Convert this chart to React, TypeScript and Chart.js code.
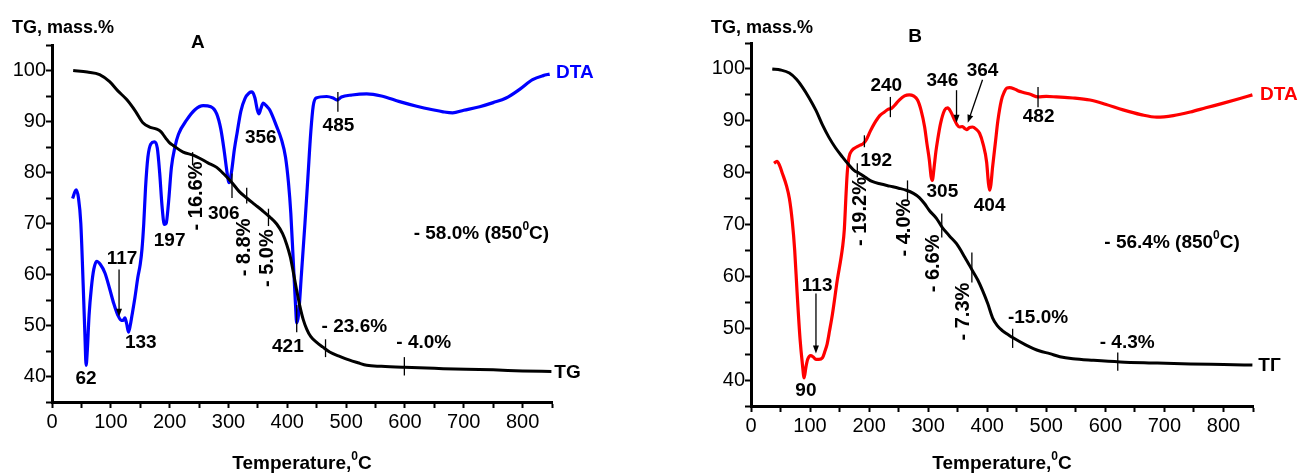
import React, { useEffect, useRef } from 'react';
import { Chart, registerables } from 'chart.js';

Chart.register(...registerables);

const FONT = '"Liberation Sans", Arial, Helvetica, sans-serif';

// ---------- Panel A data ----------
const tgTempA = [36, 60, 81, 98, 112, 127, 142, 155, 166, 178, 185, 193, 200, 206, 223, 240, 251, 265, 280, 293, 306, 318, 331, 345, 358, 370, 382, 392, 399, 405, 410, 415, 421, 427, 433, 440, 450, 460, 472, 490, 506, 520, 535, 560, 599, 650, 704, 750, 800, 849];
const tgA = [100, 99.7, 99.2, 97.8, 96, 94.3, 92, 89.7, 88.9, 88.5, 88, 86.8, 85.8, 85.3, 84, 83.4, 82.8, 81.9, 81, 79.6, 78, 76.3, 75, 73.7, 72.5, 71.3, 69.9, 68, 65.9, 63.5, 60.6, 57.5, 54, 51.2, 49.3, 47.8, 46.7, 45.8, 44.8, 43.9, 43.2, 42.7, 42.2, 42, 41.8, 41.6, 41.4, 41.3, 41.1, 41.0];

const dtaTempA = [35, 41, 45, 49, 53, 56, 58, 60, 63, 67, 71, 76, 82, 90, 98, 105, 112, 118, 121, 124, 127, 130, 133, 136, 141, 146, 150, 153, 156, 159, 163, 168, 174, 179, 183, 187, 191, 194, 198, 203, 209, 215, 229, 243, 257, 270, 280, 287, 293, 297, 301, 305, 310, 315, 321, 328, 335, 340, 345, 349, 352, 355, 359, 365, 370, 382, 390, 397, 402, 406, 410, 414, 416, 419, 424, 430, 435, 440, 444, 449, 467, 478, 485, 492, 510, 535, 560, 591, 620, 647, 665, 681, 700, 727, 750, 772, 795, 817, 835, 846];
const dtaA = [74.9, 76.6, 75, 70, 58, 48, 42.2, 45, 52, 57.5, 61, 62.6, 62, 60.3, 57.2, 54.3, 52, 51, 51, 51.5, 50.3, 48.7, 50, 52, 55.5, 59.5, 62, 65, 70, 77, 83, 85.6, 86, 84.8, 80, 73.5, 69.8, 70, 74, 81, 85, 87.5, 90.3, 92.3, 93.1, 92.9, 91.5, 88.5, 84, 80.5, 78, 80, 84.5, 88, 92, 94.5, 95.6, 95.8, 94.6, 92.3, 91.5, 92.5, 93.6, 93, 92.3, 89, 86.5, 83, 78, 72, 63, 54, 50.5, 52, 60, 70, 79, 88, 93, 94.6, 94.9, 94.6, 94.2, 94.8, 95.2, 95.4, 95, 93.9, 93, 92.3, 91.9, 91.7, 92.2, 92.9, 93.7, 94.6, 96.3, 98.2, 99, 99.3];

// ---------- Panel B data ----------
const tgTempB = [36, 50, 65, 77, 87, 98, 110, 121, 132, 143, 155, 165, 175, 183, 195, 205, 220, 235, 250, 263, 275, 285, 294, 302, 314, 324, 336, 348, 362, 375, 384, 392, 401, 409, 417, 426, 435, 443, 465, 489, 506, 523, 545, 580, 625, 680, 744, 800, 849];
const tgB = [100, 99.8, 99.2, 98, 96.5, 94.5, 92, 89.2, 86.8, 84.8, 83, 81.6, 80.4, 79.9, 79, 78.3, 77.8, 77.4, 77, 76.6, 76, 75.2, 74, 72.7, 71.2, 69.4, 67.8, 66.3, 63.7, 61.1, 59.3, 57.3, 54.7, 52, 50.5, 49.5, 48.8, 48.2, 46.8, 45.6, 45.1, 44.5, 44.1, 43.8, 43.5, 43.3, 43.1, 43, 42.9];

const dtaTempB = [39, 44, 48, 53, 60, 65, 70, 74, 78, 83, 87, 90, 93, 96, 101, 105, 110, 115, 121, 125, 129, 133, 138, 146, 155, 158, 161, 163, 166, 171, 178, 185, 190, 195, 202, 209, 218, 226, 232, 238, 245, 251, 260, 268, 275, 282, 288, 294, 298, 302, 305, 307, 310, 313, 316, 321, 328, 333, 338, 345, 349, 353, 358, 362, 365, 370, 375, 381, 387, 393, 399, 402, 404, 406, 409, 414, 418, 424, 429, 433, 438, 445, 452, 460, 473, 486, 500, 517, 545, 574, 600, 630, 660, 687, 715, 744, 770, 800, 825, 849];
const dtaB = [81.8, 82.2, 81.5, 79.9, 77.5, 75, 70.5, 65, 57, 48, 43.1, 40.4, 42.5, 44, 44.7, 44.5, 44, 44, 44.3, 45.5, 47, 49.5, 52.8, 59.2, 65.6, 69, 76, 80, 83, 84.3, 84.9, 85.3, 85.6, 86.3, 88, 89.5, 91, 91.7, 92.2, 92.4, 93.2, 94, 94.8, 95, 94.8, 94, 92, 88.8, 85.5, 82.4, 79.2, 78.5, 81, 84, 86.3, 89.5, 92.1, 92.5, 91.8, 90.1, 89.2, 88.8, 88.9, 88.5, 88.3, 88.7, 88.8, 88.4, 87.6, 85.5, 82, 78, 76.6, 77.5, 81, 86, 90, 94, 95.6, 96.3, 96.4, 96.2, 95.8, 95.5, 95.1, 94.6, 94.7, 94.6, 94.4, 94, 93.2, 92.1, 91.2, 90.7, 91, 91.7, 92.5, 93.4, 94.2, 95];

// ---------- Axis settings ----------
const xMin = 0, xMax = 850, xStep = 50;
const yMin = 35, yMax = 105, yStep = 5;

// ---------- Annotations (data coordinates) ----------
const labelsA = [
  { t: '62', x: 58, y: 39.6 }, { t: '117', x: 119, y: 63 }, { t: '133', x: 151, y: 46.7 },
  { t: '197', x: 200, y: 66.7 }, { t: '306', x: 292, y: 71.9 }, { t: '356', x: 355, y: 86.9 },
  { t: '421', x: 401, y: 45.9 }, { t: '485', x: 487, y: 89.1 },
  { t: '- 23.6%', x: 514, y: 49.7 }, { t: '- 4.0%', x: 632, y: 46.7 },
];
const rotatedA = [
  { t: '- 16.6%', x: 246, y: 75.4 }, { t: '- 8.8%', x: 328, y: 65.3 }, { t: '- 5.0%', x: 367, y: 63.2 },
];
const markersA = [
  { x: 239, y1: 84, y2: 81.4 }, { x: 306, y1: 79.8, y2: 75 }, { x: 331, y1: 77, y2: 73.9 },
  { x: 368, y1: 72.9, y2: 69.5 }, { x: 416, y1: 54, y2: 48.7 }, { x: 486, y1: 95.8, y2: 91.9 },
  { x: 465, y1: 47.3, y2: 43.8 }, { x: 599, y1: 43.8, y2: 40.2 },
];
const arrowsA = [{ x1: 114, y1: 61, x2: 114, y2: 51.7 }];

const labelsB = [
  { t: '90', x: 93, y: 37.9 }, { t: '113', x: 112, y: 58.2 }, { t: '192', x: 212, y: 82.2 },
  { t: '240', x: 229, y: 96.7 }, { t: '305', x: 324, y: 76.4 }, { t: '346', x: 324, y: 97.7 },
  { t: '364', x: 392, y: 99.6 }, { t: '404', x: 404, y: 73.7 }, { t: '482', x: 487, y: 90.7 },
  { t: '-15.0%', x: 486, y: 52 }, { t: '- 4.3%', x: 637, y: 47.2 },
];
const rotatedB = [
  { t: '- 19.2%', x: 185, y: 72.5 }, { t: '- 4.0%', x: 260, y: 69.4 },
  { t: '- 6.6%', x: 309, y: 62.5 }, { t: '- 7.3%', x: 360, y: 53.2 },
];
const markersB = [
  { x: 192, y1: 87.2, y2: 84.9 }, { x: 236, y1: 94.6, y2: 90.7 }, { x: 486, y1: 96.5, y2: 92.6 },
  { x: 180, y1: 81.8, y2: 79.1 }, { x: 265, y1: 78.5, y2: 74.7 }, { x: 323, y1: 72.1, y2: 67.5 },
  { x: 374, y1: 64.6, y2: 58.8 }, { x: 443, y1: 49.9, y2: 46.2 }, { x: 621, y1: 45.3, y2: 41.8 },
];
const arrowsB = [
  { x1: 110, y1: 56.7, x2: 110, y2: 45.1 },
  { x1: 348, y1: 95.9, x2: 348, y2: 89.6 },
  { x1: 392, y1: 97.9, x2: 367, y2: 89.6 },
];

type Part = { s: string; sup?: boolean };
const totalA: Part[] = [{ s: '- 58.0% (850' }, { s: '0', sup: true }, { s: 'C)' }];
const totalB: Part[] = [{ s: '- 56.4% (850' }, { s: '0', sup: true }, { s: 'C)' }];
const xTitle: Part[] = [{ s: 'Temperature,' }, { s: '0', sup: true }, { s: 'C' }];

function drawRich(ctx: CanvasRenderingContext2D, parts: Part[], cx: number, cy: number, size: number) {
  const supSize = Math.round(size * 0.62);
  const widths = parts.map((p) => {
    ctx.font = `bold ${p.sup ? supSize : size}px ${FONT}`;
    return ctx.measureText(p.s).width;
  });
  const total = widths.reduce((a, b) => a + b, 0);
  let x = cx - total / 2;
  ctx.textAlign = 'left';
  ctx.textBaseline = 'middle';
  parts.forEach((p, i) => {
    ctx.font = `bold ${p.sup ? supSize : size}px ${FONT}`;
    ctx.fillText(p.s, x, p.sup ? cy - size * 0.38 : cy);
    x += widths[i];
  });
}

function makePlugin(cfg: any) {
  return {
    id: 'annotations' + cfg.key,
    afterDraw(chart: any) {
      const ctx: CanvasRenderingContext2D = chart.ctx;
      const xs = chart.scales.x;
      const ys = chart.scales.y;
      const px = (v: number) => xs.getPixelForValue(v);
      const py = (v: number) => ys.getPixelForValue(v);
      const area = chart.chartArea;
      ctx.save();
      ctx.fillStyle = '#000';
      ctx.strokeStyle = '#000';

      // markers
      ctx.lineWidth = 1.3;
      cfg.markers.forEach((m: any) => {
        ctx.beginPath();
        ctx.moveTo(px(m.x), py(m.y1));
        ctx.lineTo(px(m.x), py(m.y2));
        ctx.stroke();
      });
      // arrows
      cfg.arrows.forEach((a: any) => {
        const x1 = px(a.x1), y1 = py(a.y1), x2 = px(a.x2), y2 = py(a.y2);
        const ang = Math.atan2(y2 - y1, x2 - x1);
        const L = 8, W = 3;
        ctx.beginPath();
        ctx.moveTo(x1, y1);
        ctx.lineTo(x2 - Math.cos(ang) * L * 0.8, y2 - Math.sin(ang) * L * 0.8);
        ctx.stroke();
        ctx.beginPath();
        ctx.moveTo(x2, y2);
        ctx.lineTo(x2 - Math.cos(ang) * L - Math.sin(ang) * W, y2 - Math.sin(ang) * L + Math.cos(ang) * W);
        ctx.lineTo(x2 - Math.cos(ang) * L + Math.sin(ang) * W, y2 - Math.sin(ang) * L - Math.cos(ang) * W);
        ctx.closePath();
        ctx.fill();
      });
      // labels
      ctx.font = `bold 19px ${FONT}`;
      ctx.textAlign = 'center';
      ctx.textBaseline = 'middle';
      cfg.labels.forEach((l: any) => ctx.fillText(l.t, px(l.x), py(l.y)));
      // rotated labels
      ctx.font = `bold 20px ${FONT}`;
      cfg.rotated.forEach((l: any) => {
        ctx.save();
        ctx.translate(px(l.x), py(l.y));
        ctx.rotate(-Math.PI / 2);
        ctx.textAlign = 'center';
        ctx.textBaseline = 'middle';
        ctx.fillText(l.t, 0, 0);
        ctx.restore();
      });
      // total loss text
      drawRich(ctx, cfg.total.parts, px(cfg.total.x), py(cfg.total.y), 19);
      // curve labels
      ctx.textAlign = 'left';
      ctx.textBaseline = 'middle';
      ctx.font = `bold 19px ${FONT}`;
      ctx.fillStyle = cfg.dtaColor;
      ctx.fillText('DTA', px(cfg.dtaLabel.x), py(cfg.dtaLabel.y));
      ctx.fillStyle = '#000';
      ctx.font = `bold 19px ${FONT}`;
      ctx.fillText(cfg.tgLabel.t, px(cfg.tgLabel.x), py(cfg.tgLabel.y));
      // panel letter
      ctx.textAlign = 'center';
      ctx.textBaseline = 'alphabetic';
      ctx.font = `bold 19px ${FONT}`;
      ctx.fillText(cfg.letter.t, px(cfg.letter.x), cfg.letter.baseline);
      // y title
      ctx.textAlign = 'left';
      ctx.font = `bold 18px ${FONT}`;
      ctx.fillText('TG, mass.%', area.left - 40, 33);
      // x title
      drawRich(ctx, xTitle, (area.left + area.right) / 2, 464, 19);
      ctx.restore();
    },
  };
}

function Panel(props: any) {
  const ref = useRef<HTMLCanvasElement>(null);
  const cfg = props.cfg;
  useEffect(() => {
    const canvas = ref.current!;
    const tickFont = { family: FONT, size: 20 };
    const chart = new Chart(canvas, {
      type: 'line',
      data: {
        datasets: [
          {
            data: cfg.tgT.map((t: number, i: number) => ({ x: t, y: cfg.tg[i] })),
            borderColor: '#000',
            borderWidth: 3,
            pointRadius: 0,
            cubicInterpolationMode: 'monotone',
            fill: false,
          },
          {
            data: cfg.dtaT.map((t: number, i: number) => ({ x: t, y: cfg.dta[i] })),
            borderColor: cfg.dtaColor,
            borderWidth: 3.2,
            pointRadius: 0,
            cubicInterpolationMode: 'monotone',
            fill: false,
          },
        ],
      },
      options: {
        animation: false,
        responsive: false,
        maintainAspectRatio: false,
        devicePixelRatio: 1,
        layout: { padding: cfg.padding },
        plugins: { legend: { display: false }, tooltip: { enabled: false } },
        scales: {
          x: {
            type: 'linear',
            min: xMin,
            max: xMax,
            afterFit: (s: any) => { s.height = 40; },
            border: { color: '#000', width: 3 },
            grid: { drawOnChartArea: false, drawTicks: true, tickLength: 6, tickWidth: 2, tickColor: '#000' },
            ticks: {
              stepSize: xStep,
              autoSkip: false,
              maxRotation: 0,
              color: '#000',
              padding: 2,
              font: tickFont,
              callback: (v: any) => (Number(v) % 100 === 0 ? String(v) : ''),
            },
          },
          y: {
            type: 'linear',
            min: yMin,
            max: yMax,
            afterFit: (s: any) => { s.width = 52; },
            border: { color: '#000', width: 3 },
            grid: { drawOnChartArea: false, drawTicks: true, tickLength: 6, tickWidth: 2, tickColor: '#000' },
            ticks: {
              stepSize: yStep,
              autoSkip: false,
              color: '#000',
              padding: 0,
              font: tickFont,
              callback: (v: any) => (Number(v) % 10 === 0 && v >= 40 && v <= 100 ? String(v) : ''),
            },
          },
        },
      } as any,
      plugins: [makePlugin(cfg)],
    });
    return () => chart.destroy();
  }, []);
  return (
    <canvas
      ref={ref}
      width={cfg.width}
      height={476}
      style={{ position: 'absolute', left: cfg.left, top: 0, width: cfg.width, height: 476, display: 'block' }}
    />
  );
}

const cfgA = {
  key: 'A', left: 0, width: 650,
  padding: { left: 0, right: 98, top: 45, bottom: 34 },
  tgT: tgTempA, tg: tgA, dtaT: dtaTempA, dta: dtaA, dtaColor: '#0000ff',
  labels: labelsA, rotated: rotatedA, markers: markersA, arrows: arrowsA,
  total: { parts: totalA, x: 730, y: 67.9 },
  dtaLabel: { x: 857, y: 99.5 }, tgLabel: { t: 'TG', x: 854, y: 40.8 },
  letter: { t: 'A', x: 248, baseline: 48 },
};
const cfgB = {
  key: 'B', left: 650, width: 649,
  padding: { left: 49, right: 46, top: 43, bottom: 30 },
  tgT: tgTempB, tg: tgB, dtaT: dtaTempB, dta: dtaB, dtaColor: '#ff0000',
  labels: labelsB, rotated: rotatedB, markers: markersB, arrows: arrowsB,
  total: { parts: totalB, x: 713, y: 66.5 },
  dtaLabel: { x: 862, y: 95 }, tgLabel: { t: 'ТГ', x: 859, y: 42.7 },
  letter: { t: 'B', x: 278, baseline: 42 },
};

export default function App() {
  return (
    <div style={{ position: 'absolute', left: 0, top: 0, width: 1299, height: 476, background: '#fff', overflow: 'hidden' }}>
      <Panel cfg={cfgA} />
      <Panel cfg={cfgB} />
    </div>
  );
}
